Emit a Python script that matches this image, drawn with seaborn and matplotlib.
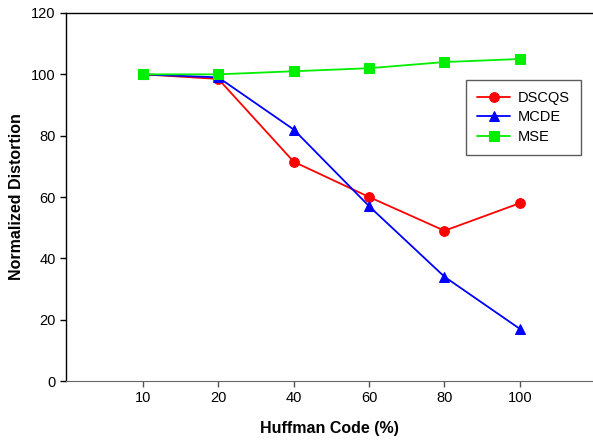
import pandas as pd
import seaborn as sns
import matplotlib.pyplot as plt

# Data
huffmanLabels = ["10", "20", "40", "60", "80", "100"]
dscqsValues = [100, 98.5, 71.5, 60, 49, 58]
mcdeValues = [100, 99, 82, 57, 34, 17]
mseValues = [100, 100, 101, 102, 104, 105]

seriesNames = ["DSCQS", "MCDE", "MSE"]
seriesColors = ["#ff0000", "#0000ff", "#00ee00"]
seriesMarkers = ["o", "^", "s"]

rows = []
for name, values in zip(seriesNames, [dscqsValues, mcdeValues, mseValues]):
    for position, value in enumerate(values):
        rows.append({"position": position, "value": value, "series": name})
dataFrame = pd.DataFrame(rows)

sns.set_style("ticks")
plt.rcParams["font.family"] = ["Liberation Sans", "DejaVu Sans"]
plt.rcParams["text.color"] = "black"
plt.rcParams["axes.labelcolor"] = "black"
plt.rcParams["xtick.color"] = "black"
plt.rcParams["ytick.color"] = "black"

fig = plt.figure(figsize=(5.93, 4.40), dpi=100)
ax = fig.add_axes([66 / 593, 59 / 440, 527 / 593, 368 / 440])

for name, color, marker in zip(seriesNames, seriesColors, seriesMarkers):
    sns.lineplot(
        data=dataFrame[dataFrame["series"] == name],
        x="position", y="value", ax=ax, color=color, marker=marker,
        markersize=7, markeredgecolor=color, linewidth=1.3, label=name,
    )

ax.set_xlim(-1.02, 5.97)
ax.set_ylim(0, 120)
ax.set_xticks(range(len(huffmanLabels)))
ax.set_xticklabels(huffmanLabels)
ax.set_yticks(range(0, 121, 20))
ax.tick_params(axis="both", labelsize=10.5, length=4, width=1)
ax.tick_params(axis="x", colors="#555555", labelcolor="black")

ax.spines["right"].set_visible(False)
ax.spines["bottom"].set_color("#666666")
for side in ["left", "top"]:
    ax.spines[side].set_color("black")
    ax.spines[side].set_linewidth(1)

ax.set_xlabel("Huffman Code (%)", fontsize=11.5, fontweight="bold", labelpad=11)
ax.set_ylabel("Normalized Distortion", fontsize=11.5, fontweight="bold", labelpad=5)

legend = ax.legend(
    loc="upper left", bbox_to_anchor=(400 / 527, 1 - 67 / 368),
    borderaxespad=0, fontsize=10.5, frameon=True, fancybox=False,
    handlelength=2.3, borderpad=0.75, labelspacing=0.38, handletextpad=0.5,
)
legend.get_frame().set_edgecolor("#333333")
legend.get_frame().set_linewidth(1)

plt.savefig("out.png", dpi=100)
plt.close()
